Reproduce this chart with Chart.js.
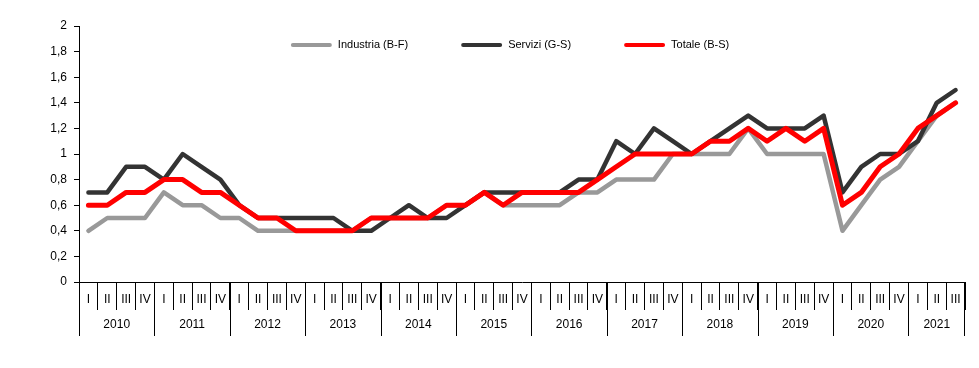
<!DOCTYPE html>
<html>
<head>
<meta charset="utf-8">
<script src="https://cdn.jsdelivr.net/npm/chart.js@4/dist/chart.umd.min.js"></script>
<style>
html,body{margin:0;padding:0;background:#fff;}
#wrap{width:979px;height:368px;position:relative;}
</style>
</head>
<body>
<div id="wrap"><canvas id="c" width="979" height="368"></canvas></div>
<script>
const years = ['2010','2011','2012','2013','2014','2015','2016','2017','2018','2019','2020','2021'];
const quarterNames = ['I','II','III','IV'];
const quarterLabels = [];
const quarterYears = [];
years.forEach(function(y, yi){
  const n = (yi === years.length - 1) ? 3 : 4;
  for (let q = 0; q < n; q++) { quarterLabels.push(quarterNames[q]); quarterYears.push(y); }
});
const categories = quarterLabels.map(function(q, i){ return quarterYears[i] + ' ' + q; });

const industria = [0.4,0.5,0.5,0.5, 0.7,0.6,0.6,0.5, 0.5,0.4,0.4,0.4, 0.4,0.4,0.4,0.5,
  0.5,0.5,0.5,0.6, 0.6,0.7,0.6,0.6, 0.6,0.6,0.7,0.7, 0.8,0.8,0.8,1.0,
  1.0,1.0,1.0,1.2, 1.0,1.0,1.0,1.0, 0.4,0.6,0.8,0.9, 1.1,1.3,1.4];
const servizi = [0.7,0.7,0.9,0.9, 0.8,1.0,0.9,0.8, 0.6,0.5,0.5,0.5, 0.5,0.5,0.4,0.4,
  0.5,0.6,0.5,0.5, 0.6,0.7,0.7,0.7, 0.7,0.7,0.8,0.8, 1.1,1.0,1.2,1.1,
  1.0,1.1,1.2,1.3, 1.2,1.2,1.2,1.3, 0.7,0.9,1.0,1.0, 1.1,1.4,1.5];
const totale = [0.6,0.6,0.7,0.7, 0.8,0.8,0.7,0.7, 0.6,0.5,0.5,0.4, 0.4,0.4,0.4,0.5,
  0.5,0.5,0.5,0.6, 0.6,0.7,0.6,0.7, 0.7,0.7,0.7,0.8, 0.9,1.0,1.0,1.0,
  1.0,1.1,1.1,1.2, 1.1,1.2,1.1,1.2, 0.6,0.7,0.9,1.0, 1.2,1.3,1.4];
const seriesNames = ['Industria (B-F)', 'Servizi (G-S)', 'Totale (B-S)'];
const yTicks = [0,0.2,0.4,0.6,0.8,1,1.2,1.4,1.6,1.8,2];

const FONT = '"Liberation Sans", Arial, sans-serif';
const NARROW = '"Liberation Sans Narrow", "Arial Narrow", "Liberation Sans", Arial, sans-serif';

const yearAxisPlugin = {
  id: 'yearAxis',
  afterDraw: function(chart){
    const x = chart.scales.x;
    const ctx = chart.ctx;
    const top = x.top;
    ctx.save();
    ctx.strokeStyle = '#000';
    ctx.lineWidth = 1;
    ctx.fillStyle = '#000';
    ctx.font = '12px ' + FONT;
    ctx.textAlign = 'center';
    ctx.textBaseline = 'middle';
    const half = (x.getPixelForValue(1) - x.getPixelForValue(0)) / 2;
    let start = 0;
    for (let i = 0; i <= quarterYears.length; i++) {
      if (i === quarterYears.length || (i > 0 && quarterYears[i] !== quarterYears[i-1])) {
        const left = x.getPixelForValue(start) - half;
        const right = x.getPixelForValue(i - 1) + half;
        ctx.beginPath();
        const lx = Math.round(left) + 0.5;
        ctx.moveTo(lx, top); ctx.lineTo(lx, top + 54);
        if (i === quarterYears.length) {
          const rx = Math.round(right) - 0.5;
          ctx.moveTo(rx, top); ctx.lineTo(rx, top + 54);
        }
        ctx.stroke();
        ctx.fillText(quarterYears[i-1], (left + right) / 2, top + 43);
        start = i;
      }
    }
    ctx.restore();
  }
};

const inlineLegendPlugin = {
  id: 'inlineLegend',
  afterDatasetsDraw: function(chart){
    const ctx = chart.ctx;
    const area = chart.chartArea;
    const boxW = 41, gapText = 6, gapItem = 53;
    ctx.save();
    ctx.font = '11px ' + FONT;
    const items = chart.data.datasets.map(function(ds){
      return { label: ds.label, color: ds.borderColor, w: boxW + gapText + ctx.measureText(ds.label).width };
    });
    const total = items.reduce(function(s, it){ return s + it.w; }, 0) + gapItem * (items.length - 1);
    const cx = (area.left + area.right) / 2 - 12;
    let x = cx - total / 2;
    const y = area.top + 19;
    ctx.textBaseline = 'middle';
    ctx.textAlign = 'left';
    items.forEach(function(it){
      ctx.strokeStyle = it.color;
      ctx.lineWidth = 4;
      ctx.lineCap = 'round';
      ctx.beginPath();
      ctx.moveTo(x + 2, y); ctx.lineTo(x + boxW - 2, y);
      ctx.stroke();
      ctx.fillStyle = '#000';
      ctx.fillText(it.label, x + boxW + gapText, y);
      x += it.w + gapItem;
    });
    ctx.restore();
  }
};

new Chart(document.getElementById('c'), {
  type: 'line',
  data: {
    labels: categories,
    datasets: [
      { label: seriesNames[0], data: industria, borderColor: '#999999', backgroundColor: '#999999', borderWidth: 4.5, pointRadius: 0, tension: 0, order: 3, borderJoinStyle: 'round', borderCapStyle: 'round' },
      { label: seriesNames[1], data: servizi, borderColor: '#333333', backgroundColor: '#333333', borderWidth: 4.5, pointRadius: 0, tension: 0, order: 2, borderJoinStyle: 'round', borderCapStyle: 'round' },
      { label: seriesNames[2], data: totale, borderColor: '#ff0000', backgroundColor: '#ff0000', borderWidth: 5, pointRadius: 0, tension: 0, order: 1, borderJoinStyle: 'round', borderCapStyle: 'round' }
    ]
  },
  options: {
    responsive: false,
    animation: false,
    devicePixelRatio: 1,
    layout: { padding: { top: 26, right: 14, left: 0, bottom: 0 } },
    plugins: {
      tooltip: { enabled: false },
      legend: { display: false }
    },
    scales: {
      x: {
        type: 'category',
        offset: true,
        afterFit: function(s){ s.height = 86; },
        border: { display: true, color: '#000', width: 1 },
        grid: { display: true, offset: true, drawOnChartArea: false, drawTicks: true, tickLength: 28, color: '#000', lineWidth: 1 },
        ticks: {
          autoSkip: false, maxRotation: 0, minRotation: 0, padding: -18,
          color: '#000',
          font: { family: NARROW, size: 12 },
          callback: function(v, i){ return quarterLabels[i]; }
        }
      },
      y: {
        min: 0, max: 2,
        afterFit: function(s){ s.width = 79; },
        afterBuildTicks: function(s){ s.ticks = yTicks.map(function(v){ return { value: v }; }); },
        border: { display: true, color: '#000', width: 1 },
        grid: { display: true, drawOnChartArea: false, drawTicks: true, tickLength: 5, color: '#000' },
        ticks: {
          padding: 7,
          color: '#000',
          font: { family: FONT, size: 12 },
          callback: function(v){ return String(v).replace('.', ','); }
        }
      }
    }
  },
  plugins: [yearAxisPlugin, inlineLegendPlugin]
});
</script>
</body>
</html>
